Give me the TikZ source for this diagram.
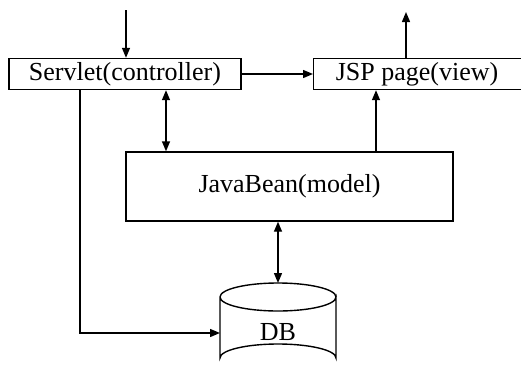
\documentclass[tikz,border=0pt]{standalone}
\usepackage{fontspec}
\setmainfont{Liberation Serif}
\usetikzlibrary{arrows.meta}
\begin{document}
\begin{tikzpicture}[x=1pt,y=-1pt,
  every node/.style={font=\fontsize{26}{30}\selectfont},
  box/.style={draw,line width=1.4pt,inner sep=0pt,minimum height=31pt},
  link/.style={line width=1.4pt,-{Triangle[length=10pt,width=8pt]}},
  twoway/.style={line width=1.4pt,{Triangle[length=10pt,width=8pt]}-{Triangle[length=10pt,width=8pt]}}]
  \clip (0,0) rectangle (521,372);
  \useasboundingbox (0,0) rectangle (521,372);

  % boxes
  \node[box,minimum width=232pt] (ctrl) at (125,74) {Servlet(controller)};
  \node[box,minimum width=212pt,anchor=west] (view) at (313,74) {};
  \node at (417,74) {JSP page(view)};
  \node[box,minimum width=327pt,minimum height=69pt] (model) at (289.5,186.5) {JavaBean(model)};

  % database cylinder
  \coordinate (dbtop) at (278,283);
  \coordinate (dbleft) at (220,333);
  \draw[line width=1.4pt,fill=white]
    (220,297) -- (220,358) arc[start angle=180,end angle=360,x radius=58,y radius=14]
    -- (336,297) arc[start angle=0,end angle=180,x radius=58,y radius=14];
  \draw[line width=1.4pt] (220,297) arc[start angle=180,end angle=360,x radius=58,y radius=14];
  \node (db) at (278,332) {DB};

  % request in, response out
  \coordinate (in) at (126,10);
  \coordinate (out) at (406,12);
  \draw[link] (in) -- (ctrl.north -| in);
  \draw[link] (view.north -| out) -- (out);

  % flows between components
  \draw[link] (ctrl.east) -- (view.west);
  \draw[twoway] (ctrl.south -| 166,0) -- (model.north -| 166,0);
  \draw[link] (model.north -| 376,0) -- (view.south -| 376,0);
  \draw[twoway] (model.south -| dbtop) -- (dbtop);
  \draw[link] (ctrl.south -| 80,0) -- (80,333) -- (dbleft);
\end{tikzpicture}
\end{document}
